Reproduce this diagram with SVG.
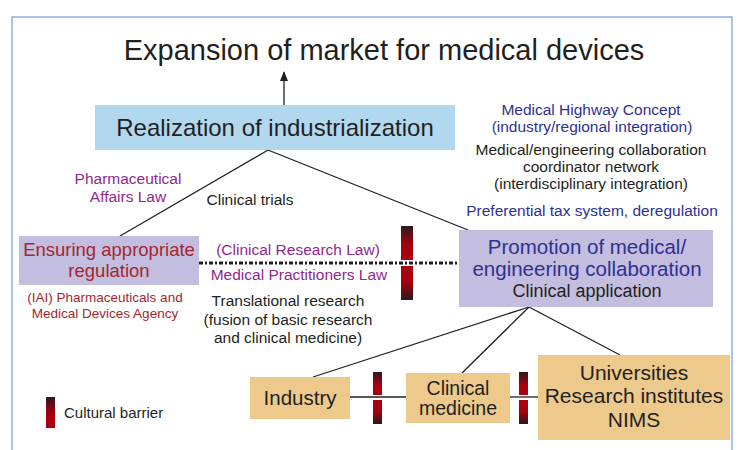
<svg xmlns="http://www.w3.org/2000/svg" width="738" height="450" viewBox="0 0 738 450">
<defs>
<linearGradient id="gTop" x1="0" y1="0" x2="0" y2="1"><stop offset="0" stop-color="#2a1a1c"/><stop offset="0.55" stop-color="#a8000f"/><stop offset="1" stop-color="#a8000f"/></linearGradient>
<linearGradient id="gBot" x1="0" y1="0" x2="0" y2="1"><stop offset="0" stop-color="#a8000f"/><stop offset="0.45" stop-color="#a8000f"/><stop offset="1" stop-color="#2a1a1c"/></linearGradient>
<marker id="arr" viewBox="0 0 10 8" refX="9" refY="4" markerUnits="userSpaceOnUse" markerWidth="11" markerHeight="8" orient="auto"><path d="M0,0 L10,4 L0,8 z" fill="#231f20"/></marker>
<style>
text{font-family:"Liberation Sans",Arial,sans-serif;fill:#231f20;text-anchor:middle}
.blue{fill:#2e3192}
.purple{fill:#92278f}
.red{fill:#a3272d}
.l{stroke:#231f20;stroke-width:1.3;fill:none}
.lb{fill:#b2d8f0}
.lv{fill:#c3bde0}
.tan{fill:#edc98c}
</style>
</defs>
<rect x="12" y="17" width="720" height="450" fill="#fff" stroke="#8fb0e0" stroke-width="1.5"/>
<text x="384" y="60" font-size="29">Expansion of market for medical devices</text>

<g id="connectors">
<line class="l" x1="284" y1="105" x2="284" y2="72" stroke-width="2.5" marker-end="url(#arr)"/>
<line class="l" x1="268" y1="150" x2="120" y2="236"/>
<line class="l" x1="268" y1="150" x2="468" y2="230"/>
<line x1="199" y1="263" x2="460" y2="263" stroke="#231f20" stroke-width="3" stroke-dasharray="4 2 2 2"/>
<line class="l" x1="529" y1="307" x2="313" y2="377"/>
<line class="l" x1="529" y1="307" x2="462" y2="373"/>
<line class="l" x1="529" y1="307" x2="620" y2="355"/>
<line class="l" x1="350" y1="397" x2="406" y2="397"/>
<line class="l" x1="510" y1="397" x2="538" y2="397"/>
</g>

<g id="realization">
<rect class="lb" x="95" y="105" width="360" height="45"/>
<text x="275" y="136" font-size="24">Realization of industrialization</text>
</g>

<g id="ensuring">
<rect class="lv" x="19" y="236" width="180" height="49"/>
<text class="red" x="109" y="256" font-size="18.5">Ensuring appropriate</text>
<text class="red" x="109" y="277" font-size="18.5">regulation</text>
</g>

<g id="promotion">
<rect class="lv" x="459" y="230" width="254" height="77"/>
<text class="blue" x="587" y="254" font-size="20.5">Promotion of medical/</text>
<text class="blue" x="587" y="276" font-size="20.5">engineering collaboration</text>
<text x="587" y="297" font-size="18">Clinical application</text>
</g>

<g id="industry">
<rect class="tan" x="250" y="377" width="100" height="42"/>
<text x="300" y="405" font-size="20.5">Industry</text>
</g>

<g id="clinical">
<rect class="tan" x="406" y="373" width="104" height="50"/>
<text x="458" y="395" font-size="19.5">Clinical</text>
<text x="458" y="415" font-size="19.5">medicine</text>
</g>

<g id="universities">
<rect class="tan" x="538" y="355" width="192" height="85"/>
<text x="634" y="380" font-size="21">Universities</text>
<text x="634" y="403" font-size="21">Research institutes</text>
<text x="634" y="427" font-size="21">NIMS</text>
</g>

<g id="labels">
<text class="purple" x="128" y="184" font-size="15.5">Pharmaceutical</text>
<text class="purple" x="128" y="202" font-size="15.5">Affairs Law</text>
<text x="250" y="205" font-size="15.5">Clinical trials</text>
<text class="blue" x="591" y="115" font-size="15.5">Medical Highway Concept</text>
<text class="blue" x="592" y="132" font-size="15.5">(industry/regional integration)</text>
<text x="591" y="155" font-size="15.5">Medical/engineering collaboration</text>
<text x="591" y="172" font-size="15.5">coordinator network</text>
<text x="591" y="189" font-size="15.5">(interdisciplinary integration)</text>
<text class="blue" x="592" y="216" font-size="15.5">Preferential tax system, deregulation</text>
<text class="purple" x="298" y="255" font-size="15.5">(Clinical Research Law)</text>
<text class="purple" x="299" y="280" font-size="15.5">Medical Practitioners Law</text>
<text class="red" x="105" y="302" font-size="13.5">(IAI) Pharmaceuticals and</text>
<text class="red" x="105" y="318" font-size="13.5">Medical Devices Agency</text>
<text x="288" y="306" font-size="15.5">Translational research</text>
<text x="288" y="325" font-size="15.5">(fusion of basic research</text>
<text x="288" y="343" font-size="15.5">and clinical medicine)</text>
</g>

<g id="barriers">
<rect x="401" y="226" width="12" height="34" fill="url(#gTop)"/>
<rect x="401" y="266" width="12" height="34" fill="url(#gBot)"/>
<rect x="373" y="372" width="9" height="23" fill="url(#gTop)"/>
<rect x="373" y="400" width="9" height="24" fill="url(#gBot)"/>
<rect x="519" y="372" width="9" height="23" fill="url(#gTop)"/>
<rect x="519" y="400" width="9" height="24" fill="url(#gBot)"/>
</g>

<g id="legend">
<rect x="46" y="397" width="9" height="31" fill="url(#gTop)"/>
<text x="64" y="418" font-size="15" style="text-anchor:start">Cultural barrier</text>
</g>
</svg>
